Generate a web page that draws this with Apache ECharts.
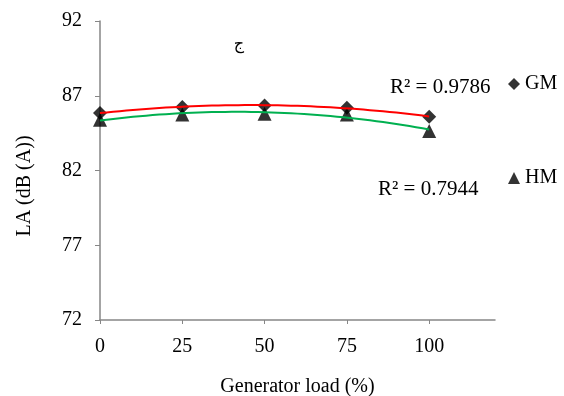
<!DOCTYPE html>
<html>
<head>
<meta charset="utf-8">
<script src="https://cdn.jsdelivr.net/npm/echarts@6/dist/echarts.min.js"></script>
<style>
  html, body { margin: 0; padding: 0; background: #fff; }
  #chart { width: 564px; height: 396px; }
</style>
</head>
<body>
<div id="chart"></div>
<script>
const loads = [0, 25, 50, 75, 100];
const gmValues = [85.85, 86.25, 86.35, 86.2, 85.6];
const hmValues = [85.4, 85.75, 85.8, 85.75, 84.65];
const xTicks = [0, 25, 50, 75, 100];
const yTicks = [72, 77, 82, 87, 92];
const r2Labels = ['R² = 0.9786', 'R² = 0.7944'];

const serif = 'Liberation Serif';

// second order polynomial trendline (least squares), like Excel
function polyFit2(xs, ys) {
  let s = [0, 0, 0, 0, 0], t = [0, 0, 0];
  xs.forEach((x, i) => {
    for (let k = 0; k < 5; k++) s[k] += Math.pow(x, k);
    for (let k = 0; k < 3; k++) t[k] += Math.pow(x, k) * ys[i];
  });
  const m = [
    [s[0], s[1], s[2], t[0]],
    [s[1], s[2], s[3], t[1]],
    [s[2], s[3], s[4], t[2]],
  ];
  for (let i = 0; i < 3; i++) {
    for (let j = i + 1; j < 3; j++) {
      const f = m[j][i] / m[i][i];
      for (let k = i; k < 4; k++) m[j][k] -= f * m[i][k];
    }
  }
  const c = [0, 0, 0];
  for (let i = 2; i >= 0; i--) {
    let v = m[i][3];
    for (let k = i + 1; k < 3; k++) v -= m[i][k] * c[k];
    c[i] = v / m[i][i];
  }
  return c;
}

function trendPoints(xs, ys) {
  const c = polyFit2(xs, ys);
  const pts = [];
  for (let x = xs[0]; x <= xs[xs.length - 1]; x += 2) {
    pts.push([x, c[0] + c[1] * x + c[2] * x * x]);
  }
  return pts;
}

const chart = echarts.init(document.getElementById('chart'));

const axisColor = '#868686';

const option = {
  backgroundColor: '#fff',
  animation: false,
  grid: { left: 100, right: 69, top: 21, bottom: 76, outerBoundsMode: 'none' },
  legend: [
    {
      left: 503, top: 69, itemWidth: 12, itemHeight: 12, itemGap: 5,
      textStyle: { fontFamily: serif, fontSize: 20, color: '#000' },
      data: [{ name: 'GM', icon: 'diamond' }],
    },
    {
      left: 503, top: 163, itemWidth: 12, itemHeight: 12, itemGap: 5,
      textStyle: { fontFamily: serif, fontSize: 20, color: '#000' },
      data: [{ name: 'HM', icon: 'triangle' }],
    },
  ],
  xAxis: {
    type: 'value',
    min: 0,
    max: 120,
    name: 'Generator load (%)',
    nameLocation: 'middle',
    nameGap: 57,
    nameTextStyle: { fontFamily: serif, fontSize: 20, color: '#000' },
    axisLine: { lineStyle: { color: axisColor, width: 1.5 } },
    axisTick: { length: 4, lineStyle: { color: axisColor }, customValues: xTicks },
    axisLabel: { fontFamily: serif, fontSize: 20, color: '#000', margin: 17, customValues: xTicks },
    splitLine: { show: false },
  },
  yAxis: {
    type: 'value',
    min: 72,
    max: 92,
    interval: 5,
    axisLine: { show: true, lineStyle: { color: axisColor, width: 1.5 } },
    axisTick: { show: true, length: 5, lineStyle: { color: axisColor }, customValues: yTicks },
    axisLabel: { fontFamily: serif, fontSize: 20, color: '#000', margin: 18, customValues: yTicks },
    splitLine: { show: false },
  },
  graphic: [
    {
      type: 'text', x: 25, y: 186, rotation: Math.PI / 2,
      style: { text: 'LA (dB (A))', font: '20px "Liberation Serif"', fill: '#000', align: 'center', verticalAlign: 'middle' },
    },
    {
      type: 'text', x: 239, y: 45,
      style: { text: 'ج', font: '16px "DejaVu Sans"', fill: '#000', align: 'center', verticalAlign: 'middle' },
    },
    {
      type: 'text', x: 390, y: 87,
      style: { text: r2Labels[0], font: '21px "Liberation Serif"', fill: '#000', verticalAlign: 'middle' },
    },
    {
      type: 'text', x: 378, y: 189,
      style: { text: r2Labels[1], font: '21px "Liberation Serif"', fill: '#000', verticalAlign: 'middle' },
    },
  ],
  series: [
    {
      name: 'HM',
      type: 'scatter',
      symbol: 'triangle',
      symbolSize: 14,
      itemStyle: { color: '#000' },
      data: loads.map((x, i) => [x, hmValues[i]]),
      z: 2,
    },
    {
      name: 'GM',
      type: 'scatter',
      symbol: 'diamond',
      symbolSize: 14,
      itemStyle: { color: '#000' },
      data: loads.map((x, i) => [x, gmValues[i]]),
      z: 3,
    },
    {
      name: 'GM trend',
      type: 'line',
      showSymbol: false,
      lineStyle: { color: '#ff0000', width: 2 },
      data: trendPoints(loads, gmValues),
      z: 4,
    },
    {
      name: 'HM trend',
      type: 'line',
      showSymbol: false,
      lineStyle: { color: '#00b050', width: 2 },
      data: trendPoints(loads, hmValues),
      z: 4,
    },
  ],
};

chart.setOption(option);
</script>
</body>
</html>
